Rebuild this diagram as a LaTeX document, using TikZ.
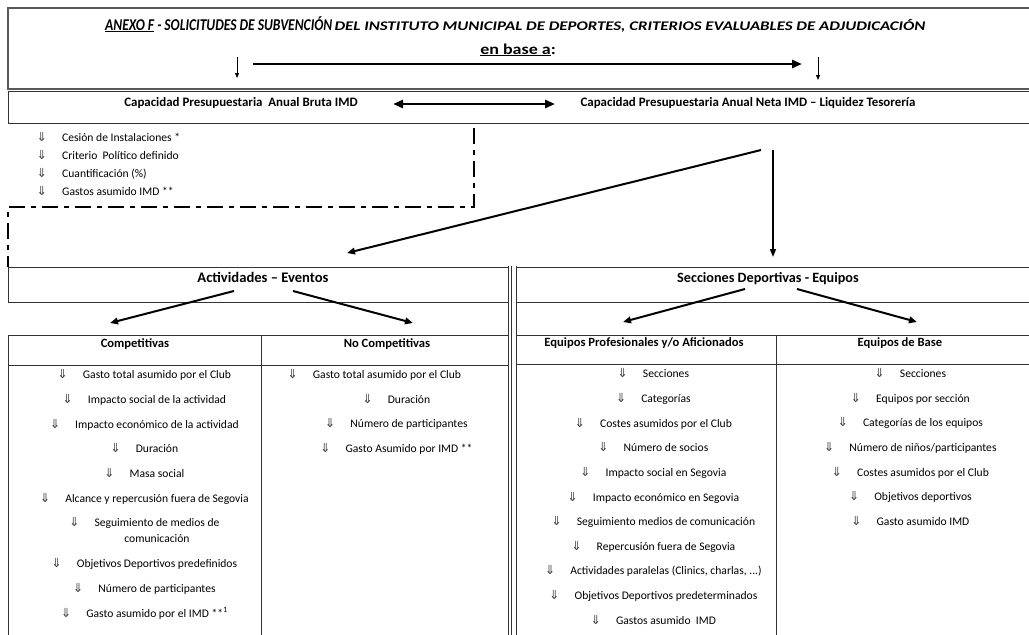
\documentclass[tikz,border=0pt]{standalone}
\usepackage{fontspec}
\setmainfont{Carlito}
\newfontfamily\symf{DejaVu Sans}
\usetikzlibrary{arrows.meta}
\newcommand{\dnar}{{\symf\fontsize{12.5}{13}\selectfont\color{black!75}⇓}}
\newcommand{\ditem}[1]{\llap{\dnar\hspace{15pt}}#1}
\begin{document}
\begin{tikzpicture}[x=1pt,y=-1pt,
  boxline/.style={draw=black!80, line width=1pt},
  itm/.style={font=\fontsize{11.6}{13}\selectfont, inner sep=0pt, anchor=base},
  hdr/.style={font=\bfseries\fontsize{12.6}{14}\selectfont, inner sep=0pt, anchor=base},
  bigarr/.style={line width=2.6pt, -{Triangle[length=10pt,width=8pt]}},
  midarr/.style={line width=2pt, -{Triangle[length=8pt,width=6.5pt]}},
  smallarr/.style={line width=1pt, -{Triangle[length=5pt,width=4pt]}},
  dashdot/.style={line width=2.4pt, dash pattern=on 16pt off 6pt on 5pt off 6pt}
]
\useasboundingbox[fill=white] (0,0) rectangle (1029,635);

% top boxes
\draw[boxline, line width=1.4pt, draw=black!65] (1035,8) -- (8,8) -- (8,89) -- (1035,89);
\draw[boxline] (1035,91) -- (8,91) -- (8,123) -- (1035,123);

\node[anchor=base west, inner sep=0pt, font=\bfseries\itshape] (title) at (105,30)
  {\scalebox{0.82}[1]{\fontsize{16.5}{18}\selectfont\underline{ANEXO F} - SOLICITUDES DE SUBVENCIÓN}\ {\fontsize{16.5}{18}\selectfont\scalebox{1.02}[0.8]{DEL INSTITUTO MUNICIPAL DE DEPORTES, CRITERIOS EVALUABLES DE ADJUDICACIÓN}}};
\node[hdr, font=\bfseries\fontsize{15}{16}\selectfont] (enbase) at (518,54) {\scalebox{1.2}[1]{\underline{en base a}:}};

\coordinate (h1) at (253,64); \coordinate (h2) at (802,64);
\draw[bigarr] (h1) -- (h2);
\coordinate (dl1) at (237,57); \coordinate (dl2) at (237,78);
\coordinate (dr1) at (818,57); \coordinate (dr2) at (818,80);
\draw[smallarr] (dl1) -- (dl2);
\draw[smallarr] (dr1) -- (dr2);

\node[hdr, font=\bfseries\fontsize{12.9}{14}\selectfont] (bruta) at (241,106) {Capacidad Presupuestaria\ \ Anual Bruta IMD};
\node[hdr, font=\bfseries\fontsize{12.9}{14}\selectfont] (neta) at (748,106) {Capacidad Presupuestaria Anual Neta IMD – Liquidez Tesorería};
\coordinate (da1) at (393,104); \coordinate (da2) at (555,104);
\draw[bigarr, {Triangle[length=10pt,width=8pt]}-{Triangle[length=10pt,width=8pt]}] (da1) -- (da2);

% left list
\node[itm, anchor=base west] (l1) at (62,141) {\ditem{Cesión de Instalaciones *}};
\node[itm, anchor=base west] (l2) at (62,159) {\ditem{Criterio\ \ Político definido}};
\node[itm, anchor=base west] (l3) at (62,177) {\ditem{Cuantificación (\%)}};
\node[itm, anchor=base west] (l4) at (62,195) {\ditem{Gastos asumido IMD **}};

% dash-dot line
\coordinate (dd1) at (474,128); \coordinate (dd2) at (474,207);
\coordinate (dd3) at (8,207); \coordinate (dd4) at (8,267);
\draw[dashdot] (dd1) -- (dd2) -- (dd3) -- (dd4);

% main arrows
\coordinate (s0) at (761,150); \coordinate (s1) at (347,253);
\coordinate (v0) at (773,150); \coordinate (v1) at (773,257);
\draw[midarr] (s0) -- (s1);
\draw[line width=1.6pt, -{Triangle[length=8pt,width=6pt]}] (v0) -- (v1);

% header boxes
\draw[boxline] (508,267) -- (8,267) -- (8,302) -- (508,302);
\draw[boxline] (516.5,267) -- (1035,267);
\draw[boxline] (516.5,302) -- (1035,302);
\foreach \xx in {508,511.5,516.5} \draw[boxline] (\xx,266) -- (\xx,640);

\node[hdr, font=\bfseries\fontsize{14.6}{16}\selectfont] (act) at (263,282) {Actividades – Eventos};
\node[hdr, font=\bfseries\fontsize{14.2}{16}\selectfont] (sec) at (768,282) {Secciones Deportivas - Equipos};

% tables
\draw[boxline] (8,640) -- (8,335) -- (508,335);
\draw[boxline] (8,365) -- (508,365);
\draw[boxline] (261,335) -- (261,640);
\draw[boxline] (516.5,335) -- (1035,335);
\draw[boxline] (516.5,364) -- (1035,364);
\draw[boxline] (776,335) -- (776,640);

% sub arrows
\coordinate (a1) at (234,291); \coordinate (a2) at (110,323);
\coordinate (a3) at (293,291); \coordinate (a4) at (413,323);
\coordinate (b1) at (745,289); \coordinate (b2) at (623,322);
\coordinate (b3) at (797,289); \coordinate (b4) at (917,322);
\draw[midarr] (a1) -- (a2);
\draw[midarr] (a3) -- (a4);
\draw[midarr] (b1) -- (b2);
\draw[midarr] (b3) -- (b4);

\node[hdr] (hc) at (135,347) {Competitivas};
\node[hdr] (hn) at (387,347) {No Competitivas};
\node[hdr] (hp) at (644,346) {Equipos Profesionales y/o Aficionados};
\node[hdr] (hb) at (900,346) {Equipos de Base};

% Competitivas
\node[itm] (c1) at (157,378) {\ditem{Gasto total asumido por el Club}};
\node[itm] (c2) at (157,403) {\ditem{Impacto social de la actividad}};
\node[itm] (c3) at (157,428) {\ditem{Impacto económico de la actividad}};
\node[itm] (c4) at (157,452) {\ditem{Duración}};
\node[itm] (c5) at (157,477) {\ditem{Masa social}};
\node[itm] (c6) at (157,502) {\ditem{Alcance y repercusión fuera de Segovia}};
\node[itm] (c7) at (157,526) {\ditem{Seguimiento de medios de}};
\node[itm] (c7b) at (157,542) {comunicación};
\node[itm] (c8) at (157,567) {\ditem{Objetivos Deportivos predefinidos}};
\node[itm] (c9) at (157,592) {\ditem{Número de participantes}};
\node[itm] (c10) at (157,617) {\ditem{Gasto asumido por el IMD **\textsuperscript{1}}};

% No Competitivas
\node[itm] (n1) at (387,378) {\ditem{Gasto total asumido por el Club}};
\node[itm] (n2) at (409,403) {\ditem{Duración}};
\node[itm] (n3) at (409,427) {\ditem{Número de participantes}};
\node[itm] (n4) at (409,452) {\ditem{Gasto Asumido por IMD **}};

% Equipos Profesionales
\node[itm] (p1) at (666,377) {\ditem{Secciones}};
\node[itm] (p2) at (666,402) {\ditem{Categorías}};
\node[itm] (p3) at (666,427) {\ditem{Costes asumidos por el Club}};
\node[itm] (p4) at (666,451) {\ditem{Número de socios}};
\node[itm] (p5) at (666,476) {\ditem{Impacto social en Segovia}};
\node[itm] (p6) at (666,501) {\ditem{Impacto económico en Segovia}};
\node[itm] (p7) at (666,525) {\ditem{Seguimiento medios de comunicación}};
\node[itm] (p8) at (666,550) {\ditem{Repercusión fuera de Segovia}};
\node[itm] (p9) at (666,574) {\ditem{Actividades paralelas (Clinics, charlas, ...)}};
\node[itm] (p10) at (666,599) {\ditem{Objetivos Deportivos predeterminados}};
\node[itm] (p11) at (666,624) {\ditem{Gastos asumido\ \ IMD}};

% Equipos de Base
\node[itm] (e1) at (923,377) {\ditem{Secciones}};
\node[itm] (e2) at (923,402) {\ditem{Equipos por sección}};
\node[itm] (e3) at (923,426) {\ditem{Categorías de los equipos}};
\node[itm] (e4) at (923,451) {\ditem{Número de niños/participantes}};
\node[itm] (e5) at (923,476) {\ditem{Costes asumidos por el Club}};
\node[itm] (e6) at (923,500) {\ditem{Objetivos deportivos}};
\node[itm] (e7) at (923,525) {\ditem{Gasto asumido IMD}};
\end{tikzpicture}
\end{document}
